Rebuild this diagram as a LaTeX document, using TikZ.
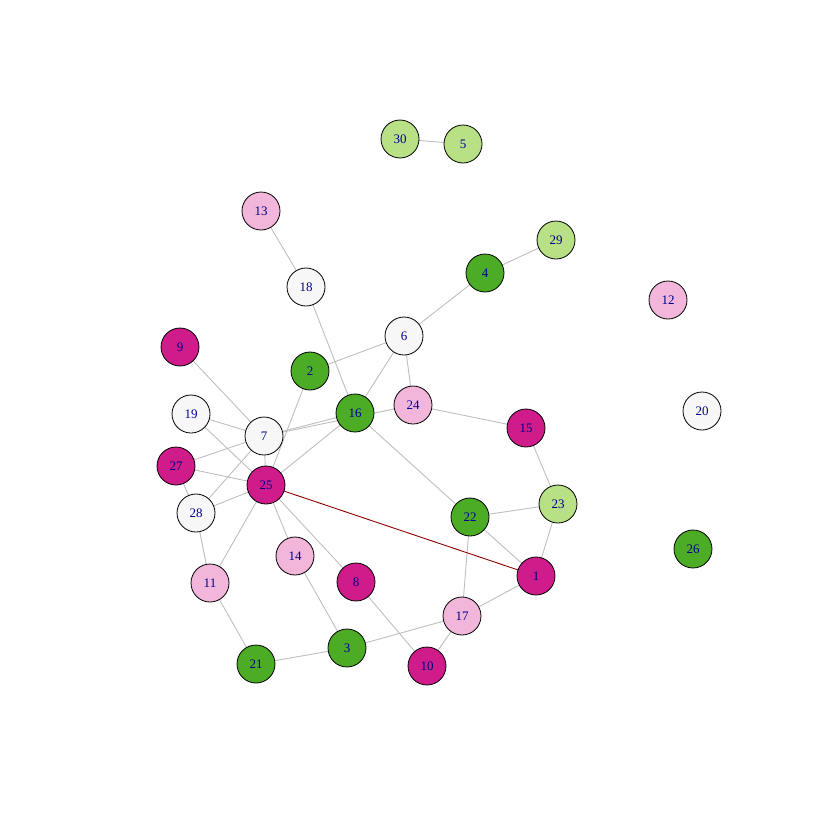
\documentclass[tikz,border=0pt]{standalone}
\usepackage{fontspec}
\setmainfont{Liberation Serif}
\begin{document}
\begin{tikzpicture}[x=1pt,y=-1pt]
\definecolor{cA}{HTML}{D01C8B}\definecolor{cB}{HTML}{F1B6DA}\definecolor{cC}{HTML}{F7F7F7}
\definecolor{cD}{HTML}{B8E186}\definecolor{cE}{HTML}{4DAC26}\definecolor{lbl}{rgb}{0,0,0.55}
\definecolor{edg}{HTML}{BEBEBE}\definecolor{red}{HTML}{8B0000}
\tikzset{v/.style={circle,draw=black,line width=0.8pt,minimum size=38pt,inner sep=0pt,text=lbl,font=\fontsize{13}{13}\selectfont},
 e/.style={draw=edg,line width=0.9pt}}
\useasboundingbox (0,0) rectangle (830,830);
\foreach \n/\x/\y/\c in {30/400/139/cD,5/463/144/cD,13/261/211/cB,29/556/240/cD,4/485/273/cE,18/306/287/cC,12/668/300/cB,6/404/336/cC,9/180/347/cA,2/310/371/cE,16/355/413/cE,24/413/405/cB,19/191/414/cC,20/702/411/cC,15/526/428/cA,7/264/436/cC,27/176/466/cA,25/266/485/cA,23/558/504/cD,28/196/513/cC,22/470/517/cE,26/693/549/cE,1/536/576/cA,14/295/556/cB,8/356/582/cA,11/210/583/cB,17/462/616/cB,3/347/648/cE,21/256/664/cE,10/427/666/cA}
 \coordinate (p\n) at (\x,\y);
\foreach \a/\b in {9/7,19/7,19/25,7/27,7/28,7/25,7/16,7/24,2/25,16/25,16/6,6/2,6/24,18/16,16/22,27/25,27/28,28/25,28/11,25/11,25/14,25/8,14/3,8/10,13/18,6/4,4/29,30/5,24/15,15/23,23/22,23/1,22/1,22/17,17/1,17/10,17/3,3/21,21/11}
 \draw[e] (p\a) -- (p\b);
\draw[draw=red,line width=0.9pt] (p25) -- (p1);
\foreach \n/\x/\y/\c in {30/400/139/cD,5/463/144/cD,13/261/211/cB,29/556/240/cD,4/485/273/cE,18/306/287/cC,12/668/300/cB,6/404/336/cC,9/180/347/cA,2/310/371/cE,16/355/413/cE,24/413/405/cB,19/191/414/cC,20/702/411/cC,15/526/428/cA,7/264/436/cC,27/176/466/cA,25/266/485/cA,23/558/504/cD,28/196/513/cC,22/470/517/cE,26/693/549/cE,1/536/576/cA,14/295/556/cB,8/356/582/cA,11/210/583/cB,17/462/616/cB,3/347/648/cE,21/256/664/cE,10/427/666/cA}
 \node[v,fill=\c] (n\n) at (p\n) {\n};
\end{tikzpicture}
\end{document}
